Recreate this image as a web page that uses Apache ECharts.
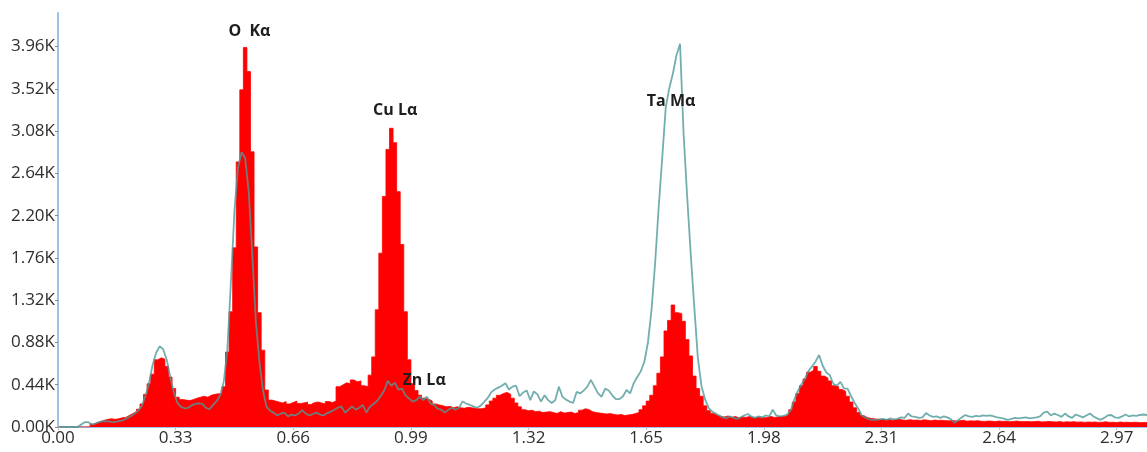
<!DOCTYPE html>
<html>
<head>
<meta charset="utf-8">
<style>
  html, body { margin: 0; padding: 0; background: #ffffff; }
  #chart { width: 1147px; height: 452px; }
</style>
<script src="https://cdn.jsdelivr.net/npm/echarts@6/dist/echarts.min.js"></script>
</head>
<body>
<div id="chart"></div>
<script>
// Energy bin width (keV); bin i covers [i*BIN, (i+1)*BIN]
const BIN = 0.01;

// Red spectrum: counts per bin, rows of 0.1 keV
const redCounts = [
  0,0,0,0,0,0,0,0,0,30,                               // 0.00
  45,55,70,80,85,80,85,95,100,120,                    // 0.10
  140,160,185,240,340,450,550,700,720,705,            // 0.20
  630,520,400,310,285,280,275,285,300,310,            // 0.30
  320,310,330,340,345,350,420,780,1200,1865,          // 0.40
  2760,3510,3950,3700,2865,1875,1190,800,385,280,     // 0.50
  270,260,250,265,240,255,270,245,250,260,            // 0.60
  235,255,260,250,240,265,255,270,420,440,            // 0.70
  460,450,490,470,480,430,420,540,730,1220,           // 0.80
  1810,2400,2890,3110,2960,2450,1900,1200,700,450,    // 0.90
  380,330,300,290,270,240,230,220,210,215,            // 1.00
  200,210,200,195,205,200,195,190,190,200,            // 1.10
  230,270,300,330,350,360,340,300,250,210,            // 1.20
  180,170,175,160,165,150,155,160,150,140,            // 1.30
  160,145,150,155,140,150,175,190,180,160,            // 1.40
  150,145,140,135,140,130,125,130,120,125,            // 1.50
  130,140,150,180,220,270,330,430,560,730,            // 1.60
  1000,1110,1270,1190,1180,1100,910,740,530,400,      // 1.70
  320,220,170,140,120,110,105,115,100,110,            // 1.80
  95,105,100,110,95,100,105,95,100,110,               // 1.90
  100,105,110,110,130,180,260,350,430,500,            // 2.00
  570,590,630,580,530,510,480,430,420,390,            // 2.10
  370,320,260,200,150,120,100,90,85,80,               // 2.20
  80,75,78,70,75,80,72,70,76,70,                      // 2.30
  72,68,75,70,65,72,68,70,66,64,                      // 2.40
  68,62,66,70,60,64,62,66,60,58,                      // 2.50
  62,60,56,62,58,60,55,58,62,56,                      // 2.60
  55,58,54,56,60,52,55,58,54,52,                      // 2.70
  56,50,54,52,55,50,53,48,52,50,                      // 2.80
  52,48,50,54,48,50,46,52,48,50,                      // 2.90
  46,50,48,45,48,46                                   // 3.00
];

// Teal spectrum: counts sampled at bin centres, rows of 0.1 keV
const tealCounts = [
  0,0,0,0,0,0,25,50,50,25,                            // 0.00
  35,50,60,60,55,50,55,65,75,95,                      // 0.10
  115,140,170,220,320,450,640,770,840,810,            // 0.20
  700,520,360,250,210,195,200,225,240,245,            // 0.30
  240,200,185,230,270,330,470,800,1500,2250,          // 0.40
  2700,2860,2800,2450,1800,1100,680,380,210,170,      // 0.50
  150,120,140,150,110,130,120,140,175,140,            // 0.60
  120,135,150,130,120,145,160,180,200,215,            // 0.70
  150,180,215,180,200,230,150,210,240,270,            // 0.80
  320,380,480,430,460,390,400,330,295,265,            // 0.90
  280,315,280,315,245,230,190,180,150,180,            // 1.00
  200,180,200,265,245,230,215,200,220,260,            // 1.10
  300,360,390,410,430,455,390,420,430,320,            // 1.20
  360,380,280,370,340,265,330,280,250,280,            // 1.30
  420,315,285,265,250,365,350,380,420,490,            // 1.40
  420,350,315,400,380,330,290,290,320,385,            // 1.50
  350,455,520,580,680,880,1220,1700,2280,2800,        // 1.60
  3330,3530,3680,3870,3990,3050,2400,1800,1250,720,   // 1.70
  430,290,200,160,140,120,100,90,110,95,              // 1.80
  85,100,120,135,110,95,110,100,120,110,              // 1.90
  180,120,110,115,130,170,280,370,440,500,            // 2.00
  580,630,680,750,640,570,540,450,430,470,            // 2.10
  400,400,320,250,190,120,100,80,75,75,               // 2.20
  80,85,75,90,80,85,100,95,140,110,                   // 2.30
  105,95,100,145,120,105,110,95,110,100,              // 2.40
  80,45,70,100,125,110,105,115,110,120,               // 2.50
  115,120,110,100,95,85,75,85,95,90,                  // 2.60
  95,100,90,95,100,110,150,160,120,140,               // 2.70
  125,105,140,110,95,130,115,100,120,140,             // 2.80
  110,90,75,95,120,125,100,95,110,130,                // 2.90
  110,120,115,125,130,125                             // 3.00
];

// Peak labels: text, energy (keV), counts
const peakNames  = ['O  Kα', 'Cu Lα', 'Zn Lα', 'Ta Mα'];
const peakEnergy = [0.537, 0.946, 1.027, 1.72];
const peakCounts = [4120, 3295, 489, 3394];

// Axis ticks
const xTickStep = 0.33;
const yTickStep = 440;

const redData = redCounts.map((v, i) => [+(i * BIN).toFixed(3), v]);
redData.push([+(redCounts.length * BIN).toFixed(3), redCounts[redCounts.length - 1]]);
const tealData = tealCounts.map((v, i) => [+((i + 0.5) * BIN).toFixed(3), v]);

const axisColor = '#9dc3e6';
const labelFont = { fontFamily: 'Open Sans', fontSize: 17, color: '#2e2e2e' };

const chart = echarts.init(document.getElementById('chart'), null, { renderer: 'canvas' });
chart.setOption({
  animation: false,
  backgroundColor: '#ffffff',
  grid: { left: 58, right: 0, top: 13, bottom: 25, containLabel: false },
  xAxis: {
    type: 'value', min: 0, max: 3.055, interval: xTickStep,
    axisLine: { show: true, onZero: false, lineStyle: { color: axisColor, width: 2 } },
    axisTick: { show: true, length: 3, lineStyle: { color: '#b0c4d6' } },
    splitLine: { show: false },
    axisLabel: Object.assign({ margin: 3, showMaxLabel: false, formatter: v => v.toFixed(2) }, labelFont)
  },
  yAxis: {
    type: 'value', min: 0, max: 4310, interval: yTickStep,
    axisLine: { show: true, lineStyle: { color: axisColor, width: 2 } },
    axisTick: { show: true, length: 3, lineStyle: { color: '#888888' } },
    splitLine: { show: false },
    axisLabel: Object.assign({ margin: 3, showMaxLabel: false, formatter: v => (v / 1000).toFixed(2) + 'K' }, labelFont)
  },
  series: [
    {
      type: 'line', step: 'end', symbol: 'none', z: 2,
      data: redData,
      lineStyle: { color: '#ff0000', width: 0.8 },
      itemStyle: { color: '#ff0000' },
      areaStyle: { color: '#ff0000', opacity: 1 }
    },
    {
      type: 'line', symbol: 'none', z: 3,
      data: tealData,
      lineStyle: { color: 'rgba(79,154,154,0.8)', width: 1.8 },
      itemStyle: { color: '#4f9a9a' },
      markPoint: {
        symbol: 'circle', symbolSize: 1,
        itemStyle: { color: 'rgba(0,0,0,0)' },
        label: {
          show: true, position: 'inside',
          fontFamily: 'Open Sans', fontSize: 16, fontWeight: 'bold', color: '#1e1e1e',
          formatter: p => p.name
        },
        data: peakNames.map((n, i) => ({ name: n, coord: [peakEnergy[i], peakCounts[i]] }))
      }
    }
  ]
});
</script>
</body>
</html>
